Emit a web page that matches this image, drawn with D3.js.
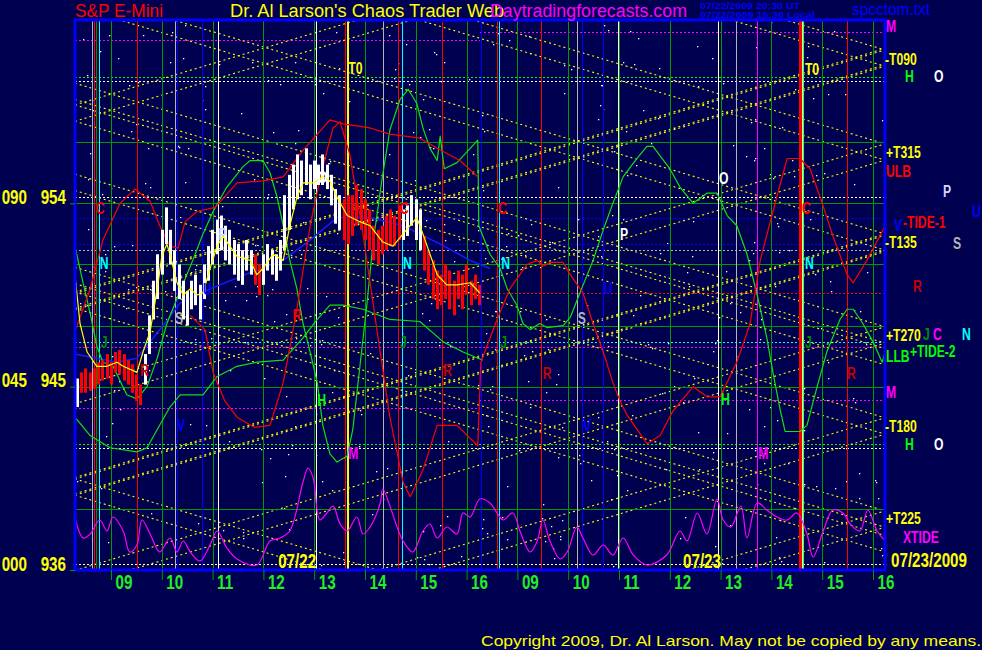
<!DOCTYPE html>
<html><head><meta charset="utf-8">
<script src="https://cdn.jsdelivr.net/npm/d3@7"></script>
<style>
html,body{margin:0;padding:0;background:#000050;}
svg{display:block;}
</style></head><body>
<svg id="c" width="982" height="650"></svg>
<script>
// ================= DATA =================
const hourLabels = ["09","10","11","12","13","14","15","16"];
const hourTimes = [0,1,2,3,4,5,6,7,8,9,10,11,12,13,14,15]; // hour index: 0 = 07/22 09:00, 8 = 07/23 09:00
const yTickPrices = [936, 945, 954];
const yTickAngles = ["000", "045", "090"];
const gridPrices = [939, 945, 948, 951, 954, 957];

// dotted horizontal levels [price, kind, tStart, tEnd]
const levels = [
  [962.0,"magenta",-0.71,7.27],[962.41,"magenta",7.27,15.24],
  [960.2,"green"],[960.0,"white"],[954.3,"white"],[953.3,"blue"],[952.0,"blue"],
  [951.7,"gray"],[949.6,"red"],[947.2,"cyan"],[946.95,"magenta"],
  [943.95,"magenta",-0.71,7.27],[944.34,"magenta",7.27,15.24],
  [942.2,"green"],[942.0,"white"],[936.3,"white"]
];

// vertical event lines [time, kind]
const vlines = [
  [-0.38,"gray"],[-0.33,"red"],[-0.30,"dkgreen"],[-0.24,"cyan"],[0.52,"red"],[1.25,"gray"],[1.29,"blue"],
  [1.80,"blue"],[2.11,"white"],[4.04,"white"],[4.60,"red"],[4.64,"T0"],[5.36,"gray"],[5.64,"red"],[5.73,"cyan"],
  [6.52,"red"],[7.28,"blue"],[7.59,"red"],[7.64,"cyan"],[8.46,"red"],[9.17,"gray"],[9.28,"blue"],[9.69,"blue"],
  [9.99,"white"],[11.94,"white"],[12.30,"gray"],[12.71,"magenta"],[13.56,"T0red"],[13.60,"T0"],[13.63,"cyan"],[14.48,"red"]
];

// yellow time-price lattice anchors (price at right / left edge)
const latticeRightP = [961.13, 956.52, 952.10, 947.54, 943.07, 938.50];
const latticeLeftP = [958.43, 949.25, 940.07];

// forecast curves [hour index, price]
const redA = [[-0.71,947.7],[-0.41,949.8],[-0.16,952.2],[0.18,954.0],[0.47,954.7],[0.77,954.1],[0.96,952.9],[1.16,951.9],[1.32,951.8],[1.46,953.1],[1.69,953.6],[2.05,953.8],[2.48,955.0],[2.99,955.1],[3.39,955.3],[3.78,956.6],[4.31,958.1],[4.57,957.9],[5.10,957.7],[5.49,957.4],[6.08,957.2],[6.42,956.7],[6.87,956.1],[7.22,955.3]];
const redB = [[1.56,948.5],[1.85,947.8],[2.01,945.7],[2.24,944.3],[2.48,943.5],[2.83,943.0],[3.13,943.1],[3.39,945.2],[3.66,948.8],[3.92,952.9],[4.15,955.6],[4.37,957.7],[4.51,958.0],[4.70,956.4],[4.96,952.5],[5.24,947.7],[5.49,943.5],[5.75,940.3],[5.89,939.6],[6.14,940.9],[6.42,943.1],[6.81,943.1],[7.22,942.1],[7.28,946.2],[7.60,948.3],[7.85,949.8],[8.19,951.0],[8.39,951.2],[8.50,950.9],[8.64,951.1],[8.90,951.1],[9.04,950.5],[9.29,949.6],[9.49,948.1],[9.69,946.7],[9.88,945.2],[10.02,944.3],[10.16,943.6],[10.55,942.2],[10.81,942.6],[11.06,943.8],[11.46,945.0],[11.73,944.5],[11.99,944.5],[12.32,946.2],[12.58,948.1],[12.78,951.2],[13.03,953.6],[13.31,956.2],[13.56,956.2],[13.76,955.7],[13.96,954.3],[14.21,952.4],[14.49,950.5],[14.61,950.1],[14.88,951.2],[15.24,952.9]];
const green1 = [[-0.71,951.9],[-0.55,950.1],[-0.41,948.6],[-0.28,947.0],[-0.16,946.2],[0.04,946.0],[0.31,944.6],[0.51,944.4],[0.71,945.0],[0.91,946.4],[1.10,948.1],[1.36,949.7],[1.61,951.2],[1.81,952.5],[2.01,953.6],[2.28,954.8],[2.60,955.8],[2.74,956.1],[2.99,956.1],[3.13,955.5],[3.27,954.3],[3.39,952.9],[3.52,951.2],[3.66,949.8],[3.78,948.1],[3.92,946.7],[4.06,945.2],[4.17,943.1],[4.31,941.7],[4.45,941.3],[4.65,941.6],[4.76,942.9],[4.90,946.0],[5.04,949.1],[5.16,952.1],[5.33,955.1],[5.49,957.6],[5.69,959.1],[5.85,959.6],[6.02,958.9],[6.14,957.7],[6.28,956.7],[6.42,956.1],[6.48,957.3],[6.56,955.7],[6.81,956.0],[7.07,956.7],[7.22,957.1],[7.24,952.9],[7.46,951.5],[7.66,950.8],[7.80,949.8],[7.99,949.0],[8.11,948.1],[8.25,947.8],[8.44,948.1],[8.58,947.9],[8.90,948.0],[9.04,948.4],[9.23,949.6],[9.49,951.2],[9.69,952.7],[9.88,954.0],[10.08,955.3],[10.35,956.2],[10.55,956.8],[10.67,956.8],[10.85,956.2],[11.00,955.7],[11.20,954.8],[11.46,954.0],[11.73,954.5],[11.93,954.5],[12.13,953.4],[12.32,952.9],[12.52,951.5],[12.72,949.5],[12.91,947.4],[13.03,945.7],[13.17,943.9],[13.27,942.8],[13.56,942.8],[13.70,943.1],[13.90,945.0],[14.09,946.7],[14.35,948.3],[14.49,948.8],[14.61,948.8],[14.80,948.1],[15.00,947.2],[15.18,946.2],[15.24,946.7]];
const green2 = [[-0.71,943.5],[-0.41,942.6],[-0.02,942.0],[0.51,941.8],[0.71,942.0],[0.91,942.9],[1.16,944.0],[1.36,944.6],[1.81,944.6],[2.09,945.5],[2.48,946.0],[2.87,946.2],[3.39,946.3],[3.78,947.4],[4.06,948.3],[4.31,949.0],[4.57,949.0],[4.96,948.8],[5.49,948.3],[6.08,948.2],[6.54,947.2],[6.93,946.7],[7.32,946.3]];
const blueC = [[-0.71,946.6],[0.12,946.2],[0.51,946.4],[0.96,947.8],[1.36,949.1],[1.95,949.8],[2.74,950.6],[3.39,951.2],[3.92,952.2],[4.45,953.3],[5.10,953.3],[5.75,952.9],[6.48,952.0],[7.07,951.2],[7.46,950.8]];
const yellowC = [[-0.71,950.5],[-0.61,948.1],[-0.47,946.7],[-0.28,946.0],[-0.08,946.0],[0.12,946.2],[0.24,946.0],[0.51,945.7],[0.63,946.7],[0.77,947.7],[0.91,949.8],[1.00,951.4],[1.10,952.0],[1.16,951.5],[1.30,950.1],[1.42,949.5],[1.56,949.8],[1.69,949.5],[1.81,949.6],[1.95,950.8],[2.09,951.9],[2.20,952.4],[2.34,951.9],[2.48,951.4],[2.74,951.2],[2.87,950.5],[2.99,950.8],[3.19,951.5],[3.39,951.2],[3.52,952.9],[3.66,954.3],[3.78,955.0],[3.98,955.0],[4.17,955.3],[4.31,955.1],[4.45,954.3],[4.65,953.4],[4.90,953.1],[5.10,952.9],[5.35,952.1],[5.55,951.9],[5.75,952.5],[6.02,953.3],[6.14,952.5],[6.42,950.5],[6.61,950.0],[6.81,950.0],[7.07,950.1],[7.26,949.6]];

// XTIDE [hour index, tide 0..100]
const xtide = [[-0.71,48],[-0.55,27],[-0.41,31],[-0.22,45],[-0.08,34],[0.04,48],[0.24,34],[0.37,13],[0.51,20],[0.61,45],[0.77,31],[0.96,13],[1.16,27],[1.30,13],[1.42,24],[1.56,13],[1.75,4],[1.95,20],[2.09,34],[2.28,17],[2.48,6],[2.87,0],[3.13,24],[3.33,27],[3.52,34],[3.78,83],[3.88,97],[3.98,87],[4.11,45],[4.25,52],[4.37,59],[4.51,41],[4.65,34],[4.84,48],[4.96,31],[5.10,38],[5.30,62],[5.35,76],[5.49,59],[5.63,38],[5.75,24],[5.94,13],[6.14,34],[6.28,41],[6.42,27],[6.61,38],[6.81,31],[6.93,52],[7.07,48],[7.26,66],[7.46,62],[7.60,52],[7.72,45],[7.91,52],[8.05,34],[8.25,13],[8.39,24],[8.50,45],[8.64,24],[8.84,6],[8.98,13],[9.17,38],[9.29,27],[9.49,10],[9.69,20],[9.88,10],[10.08,27],[10.28,10],[10.55,0],[10.94,10],[11.20,34],[11.34,24],[11.54,52],[11.73,31],[11.93,66],[12.05,45],[12.20,38],[12.40,59],[12.52,27],[12.72,62],[12.91,55],[13.11,48],[13.31,45],[13.50,52],[13.70,31],[13.82,8],[14.02,34],[14.21,55],[14.41,52],[14.55,41],[14.74,34],[14.90,55],[15.08,34],[15.24,24]];

// 5-minute price bars, first bar at hour index -0.67
const barStart = -0.67, barStepMin = 5;
const barHigh = [945.4,945.7,945.9,945.7,945.9,946.2,946.3,946.6,946.2,946.7,946.8,946.6,946.3,946.1,945.6,945.1,
  946.6,948.5,950.2,951.5,952.7,953.8,952.7,951.7,951.0,950.2,949.7,950.2,950.5,950.0,951.0,951.9,952.7,953.2,953.4,952.9,952.7,952.2,952.0,951.7,952.2,951.7,
  951.5,951.0,
  951.5,952.0,951.7,951.5,952.2,954.4,955.4,955.9,956.4,956.1,956.7,955.9,956.1,955.9,956.4,955.9,955.4,954.7,954.4,
  954.2,954.4,954.4,954.9,954.7,954.2,953.7,952.9,952.7,952.9,953.4,953.7,953.4,953.9,
  953.7,953.9,954.4,954.2,953.7,
  952.4,951.7,951.2,950.7,950.5,951.0,950.7,950.2,950.7,950.5,951.0,950.2,950.5,950.0];
const barLow = [944.0,944.7,944.7,944.8,944.9,945.1,945.3,945.4,945.1,945.7,945.6,945.3,945.1,944.7,944.3,944.1,
  945.1,946.6,948.3,949.3,950.5,952.0,951.0,949.7,949.3,948.3,948.0,948.8,949.0,948.3,949.3,950.2,951.0,951.5,951.7,951.2,951.0,950.5,950.2,950.0,950.7,950.5,
  950.0,949.5,
  950.0,950.7,950.5,950.2,950.7,951.7,952.7,953.7,954.2,954.4,954.9,954.2,954.7,954.9,954.9,954.7,953.9,953.0,952.7,
  952.2,952.0,952.4,952.9,952.7,952.2,951.7,951.2,951.0,951.5,951.7,951.9,951.9,952.2,
  952.2,952.4,952.9,952.2,951.7,
  950.7,950.0,949.3,948.8,949.0,949.3,948.8,948.5,949.3,948.8,949.5,949.0,949.3,949.0];
const barColor = "W" + "RRRRRRRRRRRRRRR" + "WWWWWWWWWWWWWWWWWWWWWWWWWW" + "RR" + "WWWWWWWWWWWWWWWWWWW" + "RRRRRRRRRRRRRR" + "WWWWW" + "RRRRRRRRRRRRRR";

// in-chart annotations [hour index, price, text, kind]
const notes = [
  [-0.30,953.5,"C","red"],[-0.22,950.8,"N","cyan"],[-0.20,946.9,"J","dkgreen"],[0.57,945.5,"R","dkred"],
  [1.26,948.1,"S","gray"],[1.30,942.8,"V","blue"],[1.81,949.5,"U","blue"],[2.11,952.2,"P","lav"],
  [3.58,948.2,"R","red"],[4.06,944.05,"H","green"],[4.07,955.0,"O","white"],[4.67,960.35,"T0","yellow"],
  [4.67,941.45,"M","magenta"],[5.69,953.5,"C","red"],[5.75,950.8,"N","cyan"],[5.69,946.9,"J","dkgreen"],
  [6.54,945.5,"R","dkred"],[7.62,953.5,"C","red"],[7.68,950.8,"N","cyan"],[7.66,946.9,"J","dkgreen"],
  [8.50,945.4,"R","dkred"],[9.19,948.1,"S","gray"],[9.29,942.8,"V","blue"],[9.70,949.55,"U","blue"],
  [10.02,952.2,"P","white"],[11.97,954.95,"O","white"],[12.01,944.1,"H","green"],[12.74,941.45,"M","magenta"],
  [13.66,960.3,"T0","yellow"],[13.60,953.5,"C","red"],[13.66,950.8,"N","cyan"],[13.66,946.9,"J","dkgreen"],
  [14.49,945.4,"R","dkred"],[3.29,936.1,"07/22","yellow"],[11.26,936.1,"07/23","yellow"]
];

// right-margin labels [price, text, kind]
const rightLabels = [
  [962.41,"M","magenta"],[960.79,"-T090","yellow"],[959.95,"H","green"],[959.95,"O","white"],
  [956.22,"+T315","yellow"],[955.29,"ULB","red"],[954.31,"P","lav"],[953.33,"U","blue"],
  [952.79,"-TIDE-1","red"],[952.65,"V","blue"],[951.81,"-T135","yellow"],[951.76,"S","gray"],
  [949.65,"R","dkred"],[947.24,"+T270","yellow"],[947.3,"J","dkgreen"],[947.3,"C","magenta"],
  [947.3,"N","cyan"],[946.21,"LLB","green"],[946.45,"+TIDE-2","green"],[944.44,"M","magenta"],
  [942.77,"-T180","yellow"],[941.9,"H","green"],[941.9,"O","white"],[938.26,"+T225","yellow"],
  [937.32,"XTIDE","magenta"],[936.15,"07/23/2009","yellow"]
];

// ================= LAYOUT / STYLE =================
const rightLabelDx = [1,0,20,49,1,1,58,87,18,9,0,68,28,1,38,48,77,1,25,1,0,20,49,1,18,6];
const C = {
  red:"#ff0000", dkred:"#c80000", green:"#00ff00", dkgreen:"#008c00", cyan:"#00ffff", blue:"#0000ff",
  gray:"#b4b4b4", white:"#ffffff", yellow:"#ffff00", magenta:"#ff00ff", lav:"#d4d4ff",
  hour:"#009a00", T0:"#ffff00", T0red:"#ff0000"
};
const SF = '"Liberation Sans",Arial,sans-serif';
const NARROW = 0.76;           // horizontal squeeze for the condensed bitmap-style labels
const BG = "#000050";

const svg = d3.select("#c");
const x = d3.scaleLinear([-0.7087, 15.2362], [75, 885]);
const y = d3.scaleLinear([936, 963], [570, 20]);
const tideY = d3.scaleLinear([0, 100], [565, 465]);
const [X0, X1] = x.range(), [Y1, Y0] = y.range();
const px = v => Math.round(v) + 0.5;
const nt = (xx, yy) => `translate(${xx},${yy}) scale(${NARROW},1)`;

svg.append("rect").attr("width",982).attr("height",650).attr("fill",BG);
svg.append("defs").append("clipPath").attr("id","pc").append("rect")
  .attr("x",X0).attr("y",Y0).attr("width",X1-X0).attr("height",Y1-Y0);
const plot = svg.append("g").attr("clip-path","url(#pc)");

// star texture
(function(){
  let s = 987654;
  const r = () => (s = (s * 1103515245 + 12345) % 2147483648) / 2147483648;
  const g = plot.append("g").attr("fill","#ffffff");
  for (let i = 0; i < 430; i++) {
    g.append("rect").attr("x", Math.floor(X0 + 2 + r()*(X1-X0-4))).attr("y", Math.floor(Y0 + 2 + r()*(Y1-Y0-4)))
      .attr("width",1.3).attr("height",1.3);
  }
})();

// dotted horizontal levels
plot.append("g").selectAll("line").data(levels).join("line")
  .attr("x1", d => d[2] !== undefined ? x(d[2]) : X0)
  .attr("x2", d => d[3] !== undefined ? x(d[3]) : X1)
  .attr("y1", d => px(y(d[0]))).attr("y2", d => px(y(d[0])))
  .attr("stroke", d => C[d[1]]).attr("stroke-width",1).attr("stroke-dasharray","2,2")
  .attr("shape-rendering","crispEdges");

// yellow lattice
const latticeSlope = 0.75; // price per hour
const [tA, tB] = x.domain(), span = tB - tA;
const lat = [];
latticeRightP.forEach(p => [-0.4, 0.4].forEach(o => [1,-1].forEach(sg => lat.push([tA, p+o+sg*latticeSlope*span, tB, p+o]))));
latticeLeftP.forEach(p => [-0.4, 0.4].forEach(o => [1,-1].forEach(sg => lat.push([tA, p+o, tB, p+o+sg*latticeSlope*span]))));
plot.append("g").selectAll("line").data(lat).join("line")
  .attr("x1", d => x(d[0])).attr("y1", d => y(d[1])).attr("x2", d => x(d[2])).attr("y2", d => y(d[3]))
  .attr("stroke","#ffff00").attr("stroke-width",1.1).attr("stroke-dasharray","2,3");

// green grid
plot.append("g").selectAll("line").data(gridPrices).join("line")
  .attr("x1",X0).attr("x2",X1).attr("y1", d => px(y(d))).attr("y2", d => px(y(d)))
  .attr("stroke",C.hour).attr("shape-rendering","crispEdges");
plot.append("g").selectAll("line").data(hourTimes).join("line")
  .attr("x1", d => px(x(d))).attr("x2", d => px(x(d))).attr("y1",Y0).attr("y2",Y1)
  .attr("stroke",C.hour).attr("shape-rendering","crispEdges");

// vertical event lines
plot.append("g").selectAll("line").data(vlines).join("line")
  .attr("x1", d => px(x(d[0]))).attr("x2", d => px(x(d[0]))).attr("y1",Y0).attr("y2",Y1)
  .attr("stroke", d => C[d[1]]).attr("stroke-width", d => d[1] === "T0red" ? 3 : d[1] === "T0" ? 2 : 1)
  .attr("shape-rendering","crispEdges");

// curves
const line = d3.line().x(d => x(d[0])).y(d => y(d[1]));
const curve = (data, col, w) => plot.append("path").attr("d", line(data)).attr("fill","none")
  .attr("stroke", col).attr("stroke-width", w).attr("stroke-linejoin","round");
curve(blueC, "#1a1aff", 1.5);
curve(green2, "#10e010", 1.2);
curve(green1, "#10e010", 1.2);
curve(redA, "#ff0000", 1.2);
curve(redB, "#ff0000", 1.2);

// price bars
const bars = barHigh.map((h, i) => ({t: barStart + i * barStepMin / 60, h, l: barLow[i], c: barColor[i]}));
plot.append("g").selectAll("rect").data(bars).join("rect")
  .attr("x", d => Math.round(x(d.t)) - 1).attr("width", 3)
  .attr("y", d => y(d.h)).attr("height", d => Math.max(2, y(d.l) - y(d.h)))
  .attr("fill", d => d.c === "W" ? "#ffffff" : "#ff0000");
curve(yellowC, "#ffff00", 1.2);

// XTIDE
plot.append("path")
  .attr("d", d3.line().x(d => x(d[0])).y(d => tideY(d[1])).curve(d3.curveCatmullRom)(xtide))
  .attr("fill","none").attr("stroke","#ff00ff").attr("stroke-width",1.2);

// annotations
svg.append("g").selectAll("text").data(notes).join("text")
  .attr("transform", d => nt(x(d[0]), y(d[1])))
  .attr("fill", d => C[d[3]])
  .style("font", d => `bold ${d[2].length > 2 ? 20 : 16}px ${SF}`)
  .text(d => d[2]);

// border
svg.append("rect").attr("x",X0).attr("y",Y0).attr("width",X1-X0).attr("height",Y1-Y0)
  .attr("fill","none").attr("stroke","#0000ff").attr("stroke-width",3);

// axes
const gx = svg.append("g").attr("transform",`translate(0,${Y1})`)
  .call(d3.axisBottom(x).tickValues(hourTimes).tickFormat((d,i) => hourLabels[i % 8]).tickSize(10));
gx.select(".domain").remove();
gx.selectAll(".tick line").attr("stroke",C.hour).attr("stroke-width",1);
gx.selectAll(".tick text").attr("text-anchor","start").attr("x",null).attr("y",null).attr("dy",null)
  .attr("transform", nt(4, 19))
  .attr("fill","#22ee22").style("font",`bold 20px ${SF}`);

const gy = svg.append("g").attr("transform",`translate(${X0},0)`)
  .call(d3.axisLeft(y).tickValues(yTickPrices).tickFormat(d3.format("d")).tickSize(5));
gy.select(".domain").remove();
gy.selectAll(".tick line").attr("stroke",C.hour);
gy.selectAll(".tick text").attr("x",null).attr("dy",null).attr("transform", nt(-9, 0))
  .attr("fill","#ffff00").style("font",`bold 20px ${SF}`);
gy.selectAll(".tick").append("text").text((d,i) => yTickAngles[i]).attr("transform", nt(-48, 0))
  .attr("text-anchor","end").attr("fill","#ffff00").style("font",`bold 20px ${SF}`);

// right labels
svg.append("g").selectAll("text").data(rightLabels).join("text")
  .attr("transform", (d,i) => nt(X1 + rightLabelDx[i], y(d[0])))
  .attr("fill", d => C[d[2]])
  .style("font", d => `bold ${d[1] === "07/23/2009" ? 20 : 16}px ${SF}`)
  .text(d => d[1]);

// header
const hdr = (tx, xx, yy, col, font, len) => {
  const t = svg.append("text").attr("x",xx).attr("y",yy).attr("fill",col).style("font",font).text(tx);
  if (len) t.attr("textLength",len).attr("lengthAdjust","spacingAndGlyphs");
};
hdr("S&P E-Mini", 75, 17, "#ff0000", `18px ${SF}`, 88);
hdr("Dr. Al Larson's Chaos Trader Web", 230, 17, "#ffff00", `18px ${SF}`, 274);
hdr("Daytradingforecasts.com", 490, 17, "#ff00ff", `18px ${SF}`, 197);
hdr("07/22/2009 20:30 UT", 700, 9, "#0000ff", `bold 9px ${SF}`, 100);
hdr("07/22/2009 15:30 Local", 700, 18, "#0000ff", `bold 9px ${SF}`, 115);
hdr("spcctom.txt", 852, 15, "#0000ff", `17px ${SF}`, 78);
hdr("Copyright 2009, Dr. Al Larson. May not be copied by any means.", 481, 646, "#ffff00", `15px ${SF}`, 500);
</script></body></html>
